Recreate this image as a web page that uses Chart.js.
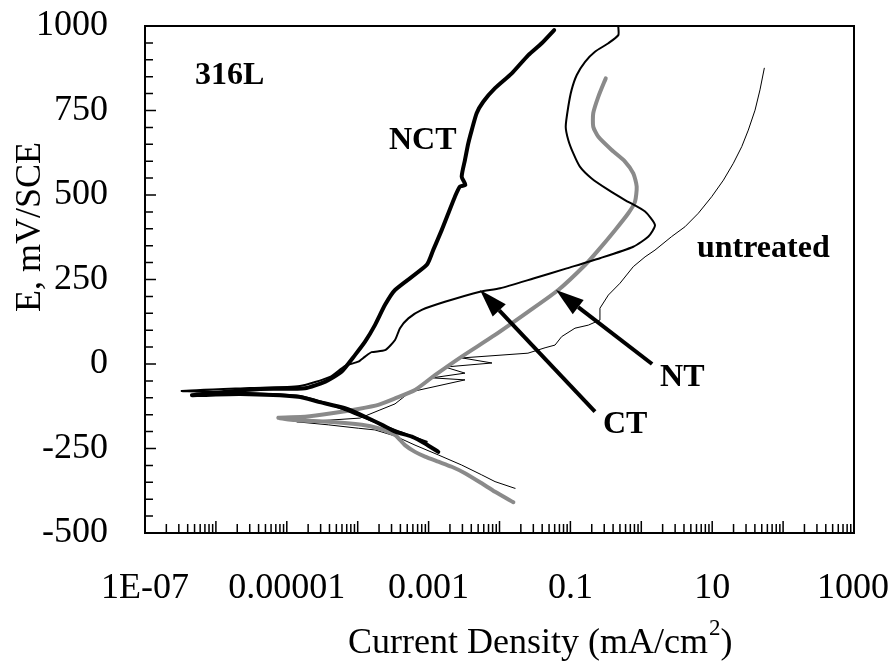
<!DOCTYPE html>
<html>
<head>
<meta charset="utf-8">
<script src="https://cdn.jsdelivr.net/npm/chart.js@4.4.1/dist/chart.umd.min.js"></script>
<style>
  html, body { margin: 0; padding: 0; background: #fff; }
  #wrap { width: 891px; height: 663px; }
</style>
</head>
<body>
<div id="wrap"><canvas id="chart" width="891" height="663"></canvas></div>
<script>
// axis ticks
const xTickValues = [1e-7, 1e-5, 1e-3, 1e-1, 10, 1000];
const xTickLabels = ['1E-07', '0.00001', '0.001', '0.1', '10', '1000'];
const yTickValues = [-500, -250, 0, 250, 500, 750, 1000];

// NCT: cathodic end -> Ecorr -> anodic top (mA/cm2, mV/SCE)
const nctCurrent = [1.37e-3, 8.9e-4, 5.8e-4, 3.4e-4, 2.2e-4, 1.27e-4, 6.6e-5, 2.8e-5, 1.45e-5, 2.2e-6, 4.6e-7,
  4.2e-6, 1.8e-5, 3.5e-5, 5.9e-5, 9.2e-5, 1.27e-4, 1.75e-4, 2.43e-4, 3.36e-4, 9.4e-4, 1.16e-3, 1.53e-3,
  1.9e-3, 2.35e-3, 2.77e-3, 3.3e-3, 2.93e-3, 3.26e-3, 3.63e-3, 4.06e-3, 4.76e-3, 5.9e-3, 8.65e-3, 1.49e-2,
  2.55e-2, 3.94e-2, 5.9e-2];
const nctPotential = [-260, -235, -215, -200, -180, -156, -131, -112, -97, -89, -92,
  -74, -72, -52, -23, 27, 66, 115, 175, 219, 293, 337, 396,
  446, 495, 525, 530, 554, 604, 653, 692, 742, 776, 816, 860,
  914, 949, 988];

// CT
const ctCurrent = [9.4e-4, 3.95e-4, 1.49e-4, 5.6e-5, 1.53e-5, 1.14e-6, 3.3e-7, 3.0e-6, 1.53e-5, 4.06e-5,
  6.6e-5, 1.02e-4, 1.27e-4, 1.57e-4, 2.43e-4, 3.36e-4, 3.95e-4, 5.18e-4, 8.0e-4, 1.7e-3, 5.31e-3, 1.02e-2,
  3.0e-2, 8.87e-2, 0.261, 0.771, 1.26, 1.56, 1.13, 0.589, 0.343, 0.1995, 0.136, 0.110, 0.0933, 0.0859,
  0.0933, 0.104, 0.123, 0.161, 0.222, 0.343, 0.474, 0.474];
const ctPotential = [-230, -201, -166, -130, -95, -83, -80, -71, -65, -38,
  -6, 7, 22, 35, 41, 71, 106, 135, 160, 184, 214, 224,
  253, 283, 313, 347, 377, 411, 451, 485, 515, 549, 584, 623, 663, 702,
  761, 811, 855, 894, 924, 949, 973, 998];

// NT
const ntCurrent = [1.57e-2, 8.65e-3, 5.61e-3, 3.26e-3, 2.12e-3, 1.37e-3, 8.9e-4, 6.43e-4, 4.64e-4, 3.36e-4,
  1.95e-4, 1.14e-4, 3.85e-5, 1.31e-5, 7.6e-6, 1.81e-5, 4.3e-5, 1.02e-4, 1.95e-4, 3.36e-4, 6.43e-4, 1.23e-3,
  2.93e-3, 8.65e-3, 2.55e-2, 6.75e-2, 0.161, 0.248, 0.426, 0.656, 0.815, 0.861, 0.771, 0.589, 0.382, 0.248,
  0.210, 0.210, 0.248, 0.315];
const ntPotential = [-409, -378, -353, -323, -304, -289, -274, -260, -240, -210,
  -190, -180, -171, -166, -159, -156, -146, -133, -121, -102, -77, -33,
  22, 86, 155, 219, 293, 337, 396, 446, 480, 525, 564, 599, 633, 672,
  702, 742, 791, 845];

// untreated
const untreatedCurrent = [1.66e-2, 8.65e-3, 5.61e-3, 2.93e-3, 1.37e-3, 6.43e-4, 3.36e-4, 1.75e-4, 1.02e-4,
  3.85e-5, 1.38e-5, 4.06e-5, 1.08e-4, 2.06e-4, 3.36e-4, 5.47e-4, 3.26e-3, 1.12e-3, 3.26e-3, 1.70e-3, 7.83e-3,
  2.96e-3, 2.52e-2, 4.39e-2, 6.07e-2, 7.53e-2, 0.116, 0.179, 0.261, 0.261, 0.343, 0.501, 0.771, 1.13, 1.56,
  2.68, 4.13, 6.37, 9.84, 14.4, 19.9, 26.1, 32.3, 40.2, 47.2, 54.3];
const untreatedPotential = [-368, -348, -328, -299, -269, -240, -213, -195, -190,
  -180, -171, -166, -160, -136, -118, -83, -47, -41, -27, -9, 3,
  18, 32, 48, 56, 81, 106, 115, 130, 165, 204, 239, 288, 317, 337,
  377, 406, 446, 495, 544, 594, 643, 692, 751, 811, 875];

// arrows [tail current, tail E, tip current, tip E]
const ctArrow = [0.222, -141, 0.00531, 219];
const ntArrow = [1.42, 0, 0.0627, 219];

// curve labels, anchored in data units (left / baseline)
const labelText = ['316L', 'NCT', 'untreated', 'NT', 'CT'];
const labelCurrent = [5.07e-7, 2.76e-4, 6.1, 1.84, 0.288];
const labelPotential = [828, 636, 317, -65, -204];

const FONT = "'Liberation Serif', 'Times New Roman', Times, serif";

function toPoints(xs, ys) {
  return xs.map((x, i) => ({ x: x, y: ys[i] }));
}

function drawArrow(ctx, x0, y0, x1, y1) {
  const ang = Math.atan2(y1 - y0, x1 - x0);
  const headLen = 28, headHalf = 9;
  const bx = x1 - headLen * Math.cos(ang);
  const by = y1 - headLen * Math.sin(ang);
  ctx.beginPath();
  ctx.moveTo(x0, y0);
  ctx.lineTo(bx, by);
  ctx.lineWidth = 4;
  ctx.strokeStyle = '#000';
  ctx.stroke();
  ctx.beginPath();
  ctx.moveTo(x1, y1);
  ctx.lineTo(bx + headHalf * Math.sin(ang), by - headHalf * Math.cos(ang));
  ctx.lineTo(bx - headHalf * Math.sin(ang), by + headHalf * Math.cos(ang));
  ctx.closePath();
  ctx.fillStyle = '#000';
  ctx.fill();
}

const decorPlugin = {
  id: 'decor',
  afterDatasetsDraw(chart) {
    const { ctx, chartArea: a, scales: { x, y } } = chart;
    ctx.save();

    // inward ticks
    ctx.strokeStyle = '#000';
    ctx.lineWidth = 1.5;
    ctx.beginPath();
    for (let v = -500; v <= 1000; v += 50) {
      const py = y.getPixelForValue(v);
      const len = v % 250 === 0 ? 11 : 8;
      ctx.moveTo(a.left, py);
      ctx.lineTo(a.left + len, py);
    }
    for (let d = -7; d < 3; d++) {
      for (let k = 1; k <= 9; k++) {
        const px = x.getPixelForValue(k * Math.pow(10, d));
        const len = k === 1 ? 12 : 9;
        ctx.moveTo(px, a.bottom);
        ctx.lineTo(px, a.bottom - len);
      }
    }
    ctx.stroke();

    // plot frame
    ctx.lineWidth = 2;
    ctx.strokeRect(a.left, a.top, a.right - a.left, a.bottom - a.top);

    // x tick labels
    ctx.fillStyle = '#000';
    ctx.font = '36px ' + FONT;
    ctx.textAlign = 'center';
    ctx.textBaseline = 'middle';
    xTickValues.forEach((v, i) => {
      const w = ctx.measureText(xTickLabels[i]).width;
      const px = Math.min(x.getPixelForValue(v), chart.width - 2 - w / 2);
      ctx.fillText(xTickLabels[i], px, a.bottom + 56);
    });

    // arrows
    drawArrow(ctx, x.getPixelForValue(ctArrow[0]), y.getPixelForValue(ctArrow[1]),
      x.getPixelForValue(ctArrow[2]), y.getPixelForValue(ctArrow[3]));
    drawArrow(ctx, x.getPixelForValue(ntArrow[0]), y.getPixelForValue(ntArrow[1]),
      x.getPixelForValue(ntArrow[2]), y.getPixelForValue(ntArrow[3]));

    // curve labels
    ctx.font = 'bold 32px ' + FONT;
    ctx.textAlign = 'left';
    ctx.textBaseline = 'alphabetic';
    labelText.forEach((t, i) => {
      ctx.fillText(t, x.getPixelForValue(labelCurrent[i]), y.getPixelForValue(labelPotential[i]));
    });

    // axis titles
    ctx.font = '36px ' + FONT;
    ctx.save();
    ctx.translate(31, 227);
    ctx.rotate(-Math.PI / 2);
    ctx.textAlign = 'center';
    ctx.textBaseline = 'middle';
    ctx.fillText('E, mV/SCE', 0, 0);
    ctx.restore();

    const main = 'Current Density (mA/cm';
    const w0 = ctx.measureText('Current ').width;
    const w1 = ctx.measureText(main).width;
    const tx = 467 - w0;
    const base = 653;
    ctx.textAlign = 'left';
    ctx.textBaseline = 'alphabetic';
    ctx.fillText(main, tx, base);
    ctx.font = '23px ' + FONT;
    const w2 = ctx.measureText('2').width;
    ctx.fillText('2', tx + w1 + 1, base - 18);
    ctx.font = '36px ' + FONT;
    ctx.fillText(')', tx + w1 + w2 + 1, base);

    ctx.restore();
  }
};

const lineBase = { pointRadius: 0, fill: false, borderJoinStyle: 'round', borderCapStyle: 'round' };

new Chart(document.getElementById('chart'), {
  type: 'line',
  data: {
    datasets: [
      Object.assign({ label: 'NCT', data: toPoints(nctCurrent, nctPotential), borderColor: '#000', borderWidth: 4, tension: 0.2 }, lineBase),
      Object.assign({ label: 'CT', data: toPoints(ctCurrent, ctPotential), borderColor: '#000', borderWidth: 2, tension: 0.2 }, lineBase),
      Object.assign({ label: 'NT', data: toPoints(ntCurrent, ntPotential), borderColor: '#8a8a8a', borderWidth: 4, tension: 0.2 }, lineBase),
      Object.assign({ label: 'untreated', data: toPoints(untreatedCurrent, untreatedPotential), borderColor: '#000', borderWidth: 1, tension: 0 }, lineBase)
    ]
  },
  options: {
    responsive: false,
    animation: false,
    events: [],
    layout: { padding: { top: 26, right: 37, bottom: 0, left: 0 } },
    plugins: { legend: { display: false }, tooltip: { enabled: false } },
    scales: {
      x: {
        type: 'logarithmic',
        min: 1e-7,
        max: 1000,
        afterBuildTicks: (s) => { s.ticks = xTickValues.map(v => ({ value: v })); },
        afterFit: (s) => { s.height = 130; s.paddingLeft = 0; s.paddingRight = 0; },
        grid: { display: false },
        border: { display: false },
        ticks: { display: false }
      },
      y: {
        type: 'linear',
        min: -500,
        max: 1000,
        afterBuildTicks: (s) => { s.ticks = yTickValues.map(v => ({ value: v })); },
        afterFit: (s) => { s.width = 145; s.paddingTop = 0; s.paddingBottom = 0; },
        grid: { display: false },
        border: { display: false },
        ticks: {
          padding: 29,
          color: '#000',
          font: { family: FONT, size: 36 },
          callback: (v) => String(v)
        }
      }
    }
  },
  plugins: [decorPlugin]
});
</script>
</body>
</html>
